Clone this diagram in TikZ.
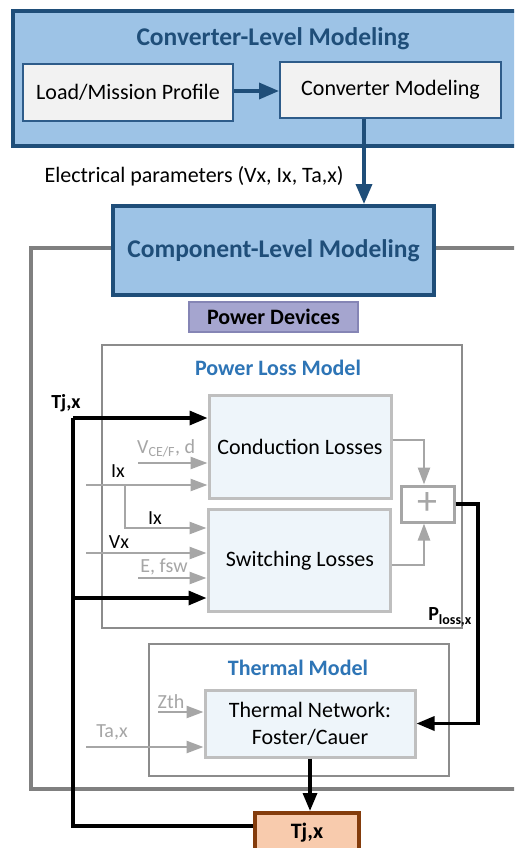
\documentclass[tikz,border=0pt]{standalone}
\usepackage{fontspec}
\setmainfont{Carlito}
\usetikzlibrary{arrows.meta}
\definecolor{dblue}{HTML}{1F4E79}
\definecolor{lblue}{HTML}{9DC3E6}
\definecolor{mblue}{HTML}{2E5C8A}
\definecolor{boxgray}{HTML}{F2F2F2}
\definecolor{framegray}{HTML}{8C8C8C}
\definecolor{outergray}{HTML}{808080}
\definecolor{inborder}{HTML}{BFBFBF}
\definecolor{inblue}{HTML}{EEF5FA}
\definecolor{arrgray}{HTML}{A6A6A6}
\definecolor{titleblue}{HTML}{2E75B6}
\definecolor{pdfill}{HTML}{A5A5CF}
\definecolor{pdborder}{HTML}{8585B5}
\definecolor{tjfill}{HTML}{F8CBAD}
\definecolor{tjborder}{HTML}{843C0C}
\newcommand{\fsbig}{\fontsize{25.5}{30}\selectfont}
\newcommand{\fsnorm}{\fontsize{22}{26}\selectfont}
\newcommand{\fssmall}{\fontsize{20}{24}\selectfont}
\begin{document}
\begin{tikzpicture}[x=1pt,y=-1pt,
  bluebox/.style={draw=dblue, line width=4pt, fill=lblue, inner sep=0pt},
  whitebox/.style={draw=mblue, line width=2pt, fill=boxgray, inner sep=0pt, font=\fsnorm},
  framebox/.style={draw=framegray, line width=2pt, fill=white, inner sep=0pt},
  inbox/.style={draw=inborder, line width=3pt, fill=inblue, inner sep=0pt, font=\fsnorm, align=center},
  bluetitle/.style={text=dblue, font=\fsbig\bfseries, inner sep=0pt},
  modeltitle/.style={text=titleblue, font=\fsnorm\bfseries, inner sep=0pt},
  lbl/.style={font=\fssmall, inner sep=0pt},
  glbl/.style={font=\fssmall, text=arrgray, inner sep=0pt},
  grayarrow/.style={draw=arrgray, line width=2.5pt, -{Triangle[length=17pt,width=12pt]}},
  grayline/.style={draw=arrgray, line width=2.5pt},
  blackarrow/.style={draw=black, line width=3.3pt, -{Triangle[length=18pt,width=14pt]}},
  blackline/.style={draw=black, line width=3.3pt},
  bluearrow/.style={draw=dblue, line width=3.5pt, -{Triangle[length=20pt,width=16pt]}}
]
\useasboundingbox (0,0) rectangle (514,848);
\clip (0,0) rectangle (514,848);
\fill[white] (0,0) rectangle (514,848);

% Converter-level frame
\node[bluebox, minimum width=517pt, minimum height=135pt] (convlevel) at (271.5,78.5) {};
\node[bluetitle] (convtitle) at (273,39) {Converter-Level Modeling};
\node[whitebox, minimum width=210pt, minimum height=57pt] (load) at (128,92.5) {Load/Mission Profile};
\node[whitebox, minimum width=221pt, minimum height=56pt] (convmod) at (390.5,90) {Converter Modeling};
\draw[bluearrow] (load.east |- 0,91) -- (convmod.west |- 0,91);

% outer gray frame
\node[draw=outergray, line width=4pt, minimum width=509pt, minimum height=541pt, inner sep=0pt] (outer) at (285.5,518.5) {};

% Component-level
\node[bluebox, minimum width=321pt, minimum height=89pt, font=\fsbig\bfseries, text=dblue] (comp) at (273.5,250.5) {Component-Level Modeling};
\coordinate (elec) at (364,0);
\draw[bluearrow] (elec |- convmod.south) -- (elec |- comp.north);
\node[font=\fsnorm, inner sep=0pt] (elabel) at (194,176) {Electrical parameters (Vx, Ix, Ta,x)};

% Power devices
\node[draw=pdborder, line width=2pt, fill=pdfill, minimum width=169pt, minimum height=30pt, inner sep=0pt, font=\fsnorm\bfseries] (pdev) at (273.5,317) {Power Devices};

% Power loss model
\node[framebox, minimum width=360pt, minimum height=283pt] (plm) at (282,486.5) {};
\node[modeltitle] (plmtitle) at (278,368) {Power Loss Model};
\node[inbox, minimum width=182pt, minimum height=103pt] (cond) at (300,446.5) {};
\node[font=\fsnorm, inner sep=0pt] (condtxt) at (300,447) {Conduction Losses};
\node[inbox, minimum width=182pt, minimum height=102pt] (sw) at (299,560) {};
\node[font=\fsnorm, inner sep=0pt] (swtxt) at (300,561) {Switching Losses};
\node[draw=arrgray, line width=3pt, fill=white, minimum width=53pt, minimum height=36pt, inner sep=0pt] (plus) at (427.5,504) {};
\node[text=arrgray, font=\fontsize{40}{40}\selectfont, inner sep=0pt] (plussign) at (427.5,503) {+};

\coordinate (cj) at (424,440);
\coordinate (sj) at (424,565);
\draw[grayarrow] (cond.east |- cj) -- (cj) -- (cj |- plus.north);
\draw[grayarrow] (sw.east |- sj) -- (sj) -- (sj |- plus.south);

% gray inputs to loss blocks
\coordinate (vce) at (138,463);
\coordinate (ixa) at (86,485);
\coordinate (ixb) at (125,485);
\coordinate (ixc) at (125,528);
\coordinate (vx) at (86,553);
\coordinate (efsw) at (138,578);
\draw[grayarrow] (vce) -- (vce -| cond.west);
\draw[grayarrow] (ixa) -- (ixa -| cond.west);
\draw[grayarrow] (ixb) -- (ixc) -- (ixc -| sw.west);
\draw[grayarrow] (vx) -- (vx -| sw.west);
\draw[grayarrow] (efsw) -- (efsw -| sw.west);
\node[glbl, anchor=west] (vcelbl) at (137,448) {V\textsubscript{CE/F}, d};
\node[lbl] (ixlbl1) at (118,471) {Ix};
\node[lbl] (ixlbl2) at (155,518) {Ix};
\node[lbl] (vxlbl) at (119,542) {Vx};
\node[glbl] (efswlbl) at (164,567) {E, fsw};

% Thermal model
\node[framebox, minimum width=300pt, minimum height=132pt] (thm) at (299,710) {};
\node[modeltitle] (thmtitle) at (298,668) {Thermal Model};
\node[inbox, minimum width=210pt, minimum height=67pt] (tn) at (310,723.5) {};
\node[font=\fsnorm, inner sep=0pt, align=center] (tntxt) at (310,723.5) {Thermal Network:\\[1pt]Foster/Cauer};
\coordinate (zth) at (158,712);
\coordinate (tax) at (86,747);
\draw[grayarrow] (zth) -- (zth -| tn.west);
\draw[grayarrow] (tax) -- (tax -| tn.west);
\node[glbl] (zthlbl) at (171,702) {Zth};
\node[glbl] (taxlbl) at (112,732) {Ta,x};

% Ploss feedback
\coordinate (pr) at (478,0);
\draw[blackarrow] (plus.east) -- (pr |- plus.east) -- (pr |- tn.east) -- (tn.east);
\node[font=\fssmall\bfseries, inner sep=0pt] (plosslbl) at (450,617) {P\textsubscript{loss,x}};

% Tj output
\node[draw=tjborder, line width=4pt, fill=tjfill, minimum width=104pt, minimum height=40pt, inner sep=0pt, font=\fsnorm\bfseries] (tj) at (307,833) {Tj,x};
\draw[blackarrow] (tn.south) -- (tn.south |- tj.north);

% Tj feedback loop
\coordinate (tjbot) at (73,826);
\coordinate (tjtop) at (73,418);
\coordinate (tjmid) at (73,598);
\draw[blackline] (tjbot -| tj.west) -- (tjbot) -- (tjtop);
\draw[blackarrow] (tjtop) -- (tjtop -| cond.west);
\draw[blackarrow] (tjmid) -- (tjmid -| sw.west);
\node[font=\fssmall\bfseries, inner sep=0pt] (tjlbl) at (66,403) {Tj,x};
\end{tikzpicture}
\end{document}
